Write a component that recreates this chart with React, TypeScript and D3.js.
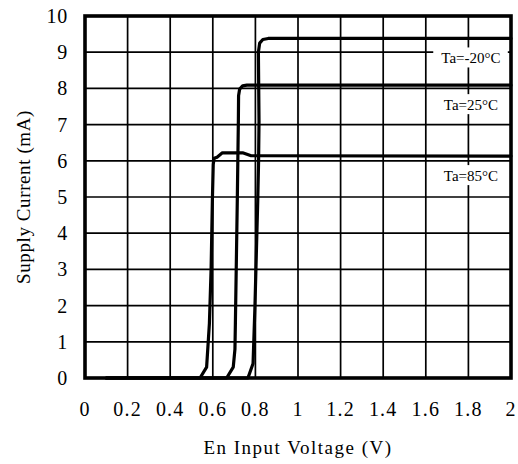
import * as d3 from "d3";

// series (V, mA)
const seriesNames = ["Ta=-20°C", "Ta=25°C", "Ta=85°C"];

const xM20 = [0.1, 0.765, 0.789, 0.798, 0.811, 0.815, 0.817, 0.814, 0.82, 0.835, 0.86, 2.0];
const yM20 = [0, 0, 0.4, 2.0, 4.9, 6.0, 7.1, 9.0, 9.25, 9.35, 9.38, 9.38];

const x25 = [0.1, 0.665, 0.696, 0.704, 0.706, 0.715, 0.72, 0.721, 0.726, 0.74, 0.76, 2.0];
const y25 = [0, 0, 0.3, 0.8, 1.5, 4.9, 7.1, 7.8, 7.98, 8.07, 8.09, 8.09];

const x85 = [0.1, 0.54, 0.571, 0.584, 0.592, 0.598, 0.602, 0.606, 0.62, 0.645, 0.74, 0.78, 2.0];
const y85 = [0, 0, 0.3, 1.5, 3.0, 4.9, 5.9, 6.07, 6.1, 6.22, 6.22, 6.14, 6.13];

const seriesX = [xM20, x25, x85];
const seriesY = [yM20, y25, y85];

const xTicks = [0, 0.2, 0.4, 0.6, 0.8, 1, 1.2, 1.4, 1.6, 1.8, 2];
const yTicks = [0, 1, 2, 3, 4, 5, 6, 7, 8, 9, 10];

const width = 518;
const height = 464;
const marginLeft = 85;
const marginRight = 7;
const marginTop = 16;
const marginBottom = 86;
const font = "'Liberation Serif', 'Times New Roman', serif";

export default function App() {
  const x = d3.scaleLinear([0, 2], [marginLeft, width - marginRight]);
  const y = d3.scaleLinear([0, 10], [height - marginBottom, marginTop]);

  const line = d3
    .line<[number, number]>()
    .x((d) => x(d[0]))
    .y((d) => y(d[1]));

  return (
    <svg
      width={width}
      height={height}
      viewBox={`0 0 ${width} ${height}`}
      style={{ position: "absolute", left: 0, top: 0, background: "#fff" }}
      fontFamily={font}
    >
      {/* grid */}
      <g stroke="#000" strokeWidth={1.7}>
        {xTicks.map((t) => (
          <line key={"gx" + t} x1={x(t)} x2={x(t)} y1={y(0)} y2={y(10)} />
        ))}
        {yTicks.map((t) => (
          <line key={"gy" + t} x1={x(0)} x2={x(2)} y1={y(t)} y2={y(t)} />
        ))}
      </g>

      {/* label boxes sit over the grid */}
      {seriesNames.map((name, i) => {
        const level = seriesY[i][seriesY[i].length - 1];
        const cy = y(level) + 20;
        return (
          <g key={name}>
            <rect x={x(1.635)} y={cy - 11} width={x(1.985) - x(1.635)} height={20} fill="#fff" />
            <text
              x={x(1.812)}
              y={cy}
              textAnchor="middle"
              dominantBaseline="central"
              fontSize={15}
              fill="#000"
            >
              {name}
            </text>
          </g>
        );
      })}

      {/* curves */}
      <g fill="none" stroke="#000" strokeWidth={3.2} strokeLinejoin="round" strokeLinecap="round">
        {seriesX.map((xs, i) => (
          <path
            key={i}
            d={line(xs.map((v, j) => [v, seriesY[i][j]] as [number, number])) || ""}
          />
        ))}
      </g>

      {/* frame */}
      <rect
        x={x(0)}
        y={y(10)}
        width={x(2) - x(0)}
        height={y(0) - y(10)}
        fill="none"
        stroke="#000"
        strokeWidth={3.6}
      />

      {/* y tick labels */}
      <g fontSize={20} fill="#000" textAnchor="end" letterSpacing={0.8}>
        {yTicks.map((t) => (
          <text key={"yl" + t} x={68} y={y(t)} dominantBaseline="central">
            {t}
          </text>
        ))}
      </g>

      {/* x tick labels */}
      <g fontSize={20} fill="#000" textAnchor="middle" letterSpacing={1.2}>
        {xTicks.map((t) => (
          <text key={"xl" + t} x={x(t)} y={416}>
            {d3.format("~g")(t)}
          </text>
        ))}
      </g>

      <text
        x={(x(0) + x(2)) / 2}
        y={454}
        textAnchor="middle"
        fontSize={19}
        letterSpacing={1.5}
        fill="#000"
      >
        En Input Voltage (V)
      </text>
      <text
        transform={`translate(30,${(y(0) + y(10)) / 2}) rotate(-90)`}
        textAnchor="middle"
        fontSize={19}
        letterSpacing={0.6}
        fill="#000"
      >
        Supply Current (mA)
      </text>
    </svg>
  );
}
